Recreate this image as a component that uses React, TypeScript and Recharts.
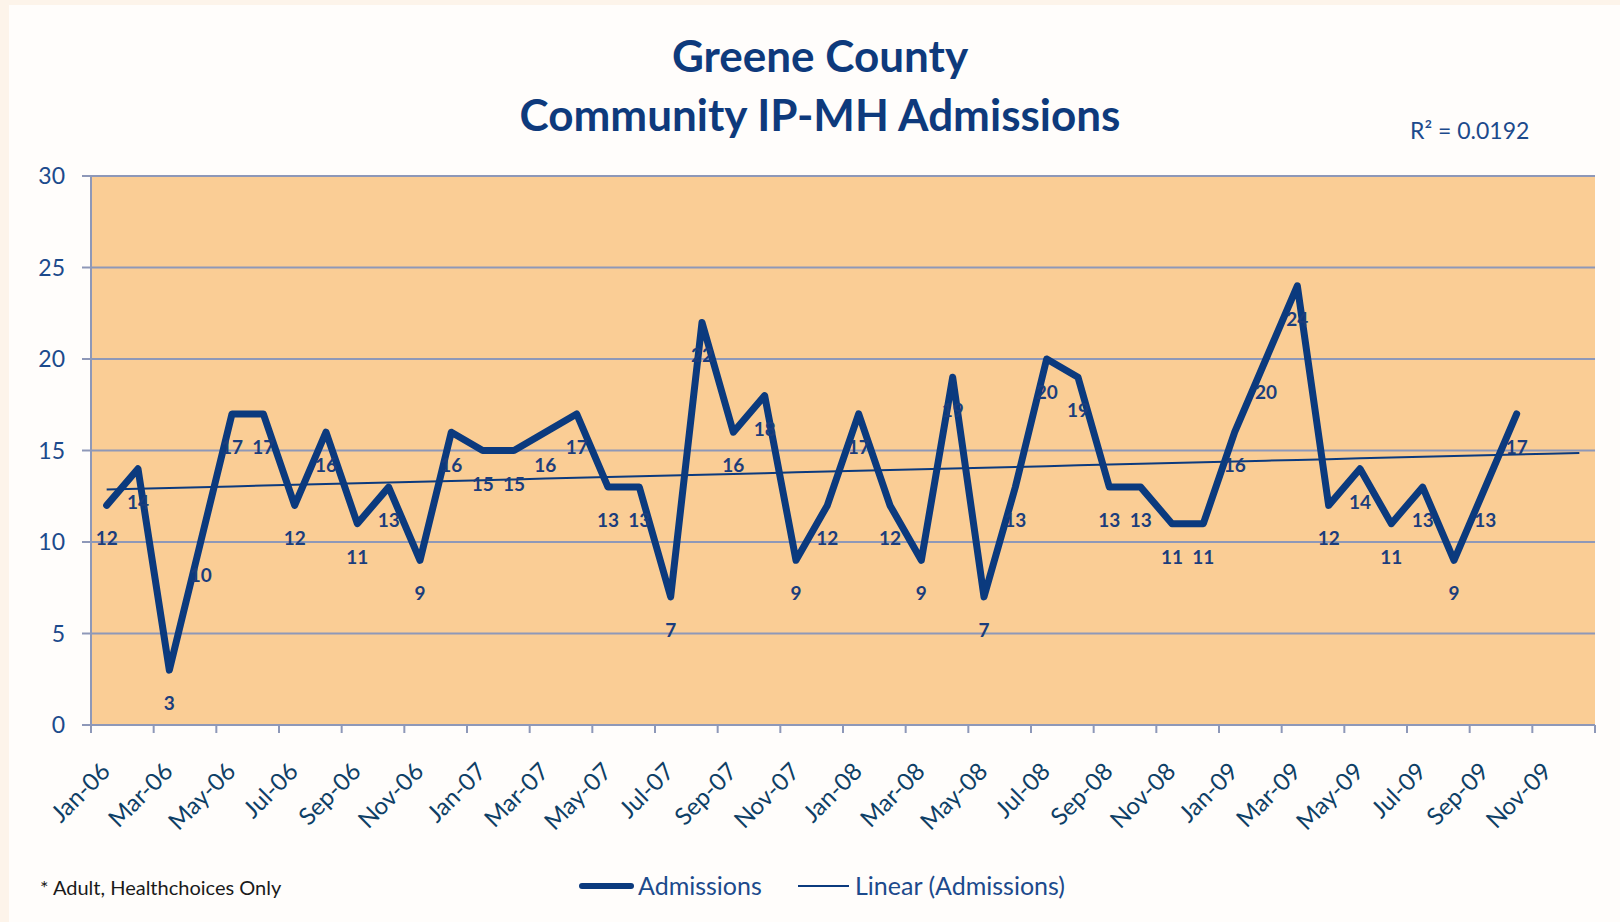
import React from "react";
import { LineChart, Line, XAxis, YAxis, CartesianGrid, Legend } from "recharts";

const months = [
  "Jan-06", "Feb-06", "Mar-06", "Apr-06", "May-06", "Jun-06", "Jul-06", "Aug-06", "Sep-06", "Oct-06", "Nov-06", "Dec-06",
  "Jan-07", "Feb-07", "Mar-07", "Apr-07", "May-07", "Jun-07", "Jul-07", "Aug-07", "Sep-07", "Oct-07", "Nov-07", "Dec-07",
  "Jan-08", "Feb-08", "Mar-08", "Apr-08", "May-08", "Jun-08", "Jul-08", "Aug-08", "Sep-08", "Oct-08", "Nov-08", "Dec-08",
  "Jan-09", "Feb-09", "Mar-09", "Apr-09", "May-09", "Jun-09", "Jul-09", "Aug-09", "Sep-09", "Oct-09", "Nov-09", "Dec-09",
];

const admissions = [
  12, 14, 3, 10, 17, 17, 12, 16, 11, 13, 9, 16,
  15, 15, 16, 17, 13, 13, 7, 22, 16, 18, 9, 12,
  17, 12, 9, 19, 7, 13, 20, 19, 13, 13, 11, 11,
  16, 20, 24, 12, 14, 11, 13, 9, 13, 17,
];

const yTicks = [0, 5, 10, 15, 20, 25, 30];
// boundaries between months, every second one gets a tick mark
const boundaryTicks = Array.from({ length: 25 }, (_, i) => i * 2 - 0.5);
const labelTicks = Array.from({ length: 24 }, (_, i) => i * 2);

// Excel-style linear trendline (least squares over the observed months)
const n = admissions.length;
const meanX = (n - 1) / 2;
const meanY = admissions.reduce((s, v) => s + v, 0) / n;
let sxy = 0;
let sxx = 0;
let syy = 0;
admissions.forEach((v, i) => {
  sxy += (i - meanX) * (v - meanY);
  sxx += (i - meanX) ** 2;
  syy += (v - meanY) ** 2;
});
const slope = sxy / sxx;
const intercept = meanY - slope * meanX;
const r2 = (sxy * sxy) / (sxx * syy);

const data = months.map((m, i) => ({
  x: i,
  month: m,
  admissions: i < n ? admissions[i] : null,
  trend: intercept + slope * i,
}));

const NAVY = "#0B3A7E";
const GRID = "#8E98B8";
const FONT = "Lato, 'Open Sans', sans-serif";

const NoTick = () => <g />;

const MonthTick = (props: any) => {
  const { x, y, payload } = props;
  const ax = x + 5;
  const ay = y + 47;
  return (
    <text
      x={ax}
      y={ay}
      transform={`rotate(-45, ${ax}, ${ay})`}
      textAnchor="end"
      fill="#0E3F66"
      fontSize={24}
      fontFamily={FONT}
    >
      {months[payload.value]}
    </text>
  );
};

const PointLabel = (props: any) => {
  const { x, y, value } = props;
  if (value == null) return null;
  return (
    <text x={x} y={y + 40} textAnchor="middle" fill="#1B3D7C" fontSize={19} fontWeight={700} fontFamily={FONT}>
      {value}
    </text>
  );
};

const LegendContent = () => (
  <svg width={540} height={40}>
    <line x1={22} y1={20} x2={71} y2={20} stroke={NAVY} strokeWidth={6} strokeLinecap="round" />
    <text x={78} y={29} fill="#1C4A8C" fontSize={25} fontFamily={FONT}>
      Admissions
    </text>
    <line x1={238} y1={20} x2={289} y2={20} stroke={NAVY} strokeWidth={2} />
    <text x={295} y={29} fill="#1C4A8C" fontSize={25} fontFamily={FONT}>
      Linear (Admissions)
    </text>
  </svg>
);

export default function App() {
  return (
    <div style={{ position: "absolute", left: 0, top: 0, width: 1620, height: 922, background: "#FDF4EA" }}>
      <div style={{ position: "absolute", left: 9, top: 5, width: 1611, height: 917, background: "#FFFDFB" }} />
      <div style={{ position: "absolute", left: 0, top: 0 }}>
        <LineChart width={1620} height={922} data={data} margin={{ top: 176, right: 25, bottom: 96, left: 31 }}>
          <CartesianGrid xAxisId="grid" vertical={false} stroke={GRID} strokeWidth={2} fill="#FACD95" fillOpacity={1} />
          <XAxis
            xAxisId="grid"
            dataKey="x"
            type="number"
            domain={[-0.5, 47.5]}
            ticks={boundaryTicks}
            interval={0}
            tick={<NoTick />}
            tickSize={8}
            height={1}
            axisLine={{ stroke: GRID, strokeWidth: 2 }}
            tickLine={{ stroke: GRID, strokeWidth: 2 }}
          />
          <XAxis
            xAxisId="labels"
            dataKey="x"
            type="number"
            domain={[-0.5, 47.5]}
            ticks={labelTicks}
            interval={0}
            tick={<MonthTick />}
            tickSize={0}
            tickMargin={0}
            height={100}
            axisLine={false}
            tickLine={false}
          />
          <YAxis
            domain={[0, 30]}
            ticks={yTicks}
            width={60}
            tickSize={9}
            tickMargin={17}
            axisLine={{ stroke: GRID, strokeWidth: 2 }}
            tickLine={{ stroke: GRID, strokeWidth: 2 }}
            tick={{ fill: "#1C4A8C", fontSize: 23, fontFamily: FONT }}
          />
          <Line
            xAxisId="labels"
            dataKey="trend"
            name="Linear (Admissions)"
            type="linear"
            stroke={NAVY}
            strokeWidth={2}
            dot={false}
            activeDot={false}
            isAnimationActive={false}
          />
          <Line
            xAxisId="grid"
            dataKey="admissions"
            name="Admissions"
            type="linear"
            stroke={NAVY}
            strokeWidth={7}
            strokeLinecap="round"
            strokeLinejoin="round"
            dot={false}
            activeDot={false}
            label={<PointLabel />}
            isAnimationActive={false}
          />
          <Legend
            layout="horizontal"
            verticalAlign="middle"
            align="center"
            content={<LegendContent />}
            wrapperStyle={{ left: 560, top: 866, width: 540, height: 40 }}
          />
        </LineChart>
      </div>
      <svg width={1620} height={922} style={{ position: "absolute", left: 0, top: 0, pointerEvents: "none" }}>
        <text x={820} y={72} textAnchor="middle" fill="#0E3A7C" fontSize={44} fontWeight={700} fontFamily={FONT}>
          Greene County
        </text>
        <text x={820} y={131} textAnchor="middle" fill="#0E3A7C" fontSize={44} fontWeight={700} fontFamily={FONT}>
          Community IP-MH Admissions
        </text>
        <text x={1410} y={139} fill="#1C4A8C" fontSize={23} fontFamily={FONT}>
          {`R² = ${r2.toFixed(4)}`}
        </text>
        <text x={40} y={895} fill="#1A1A1A" fontSize={20} fontFamily={FONT}>
          * Adult, Healthchoices Only
        </text>
      </svg>
    </div>
  );
}
